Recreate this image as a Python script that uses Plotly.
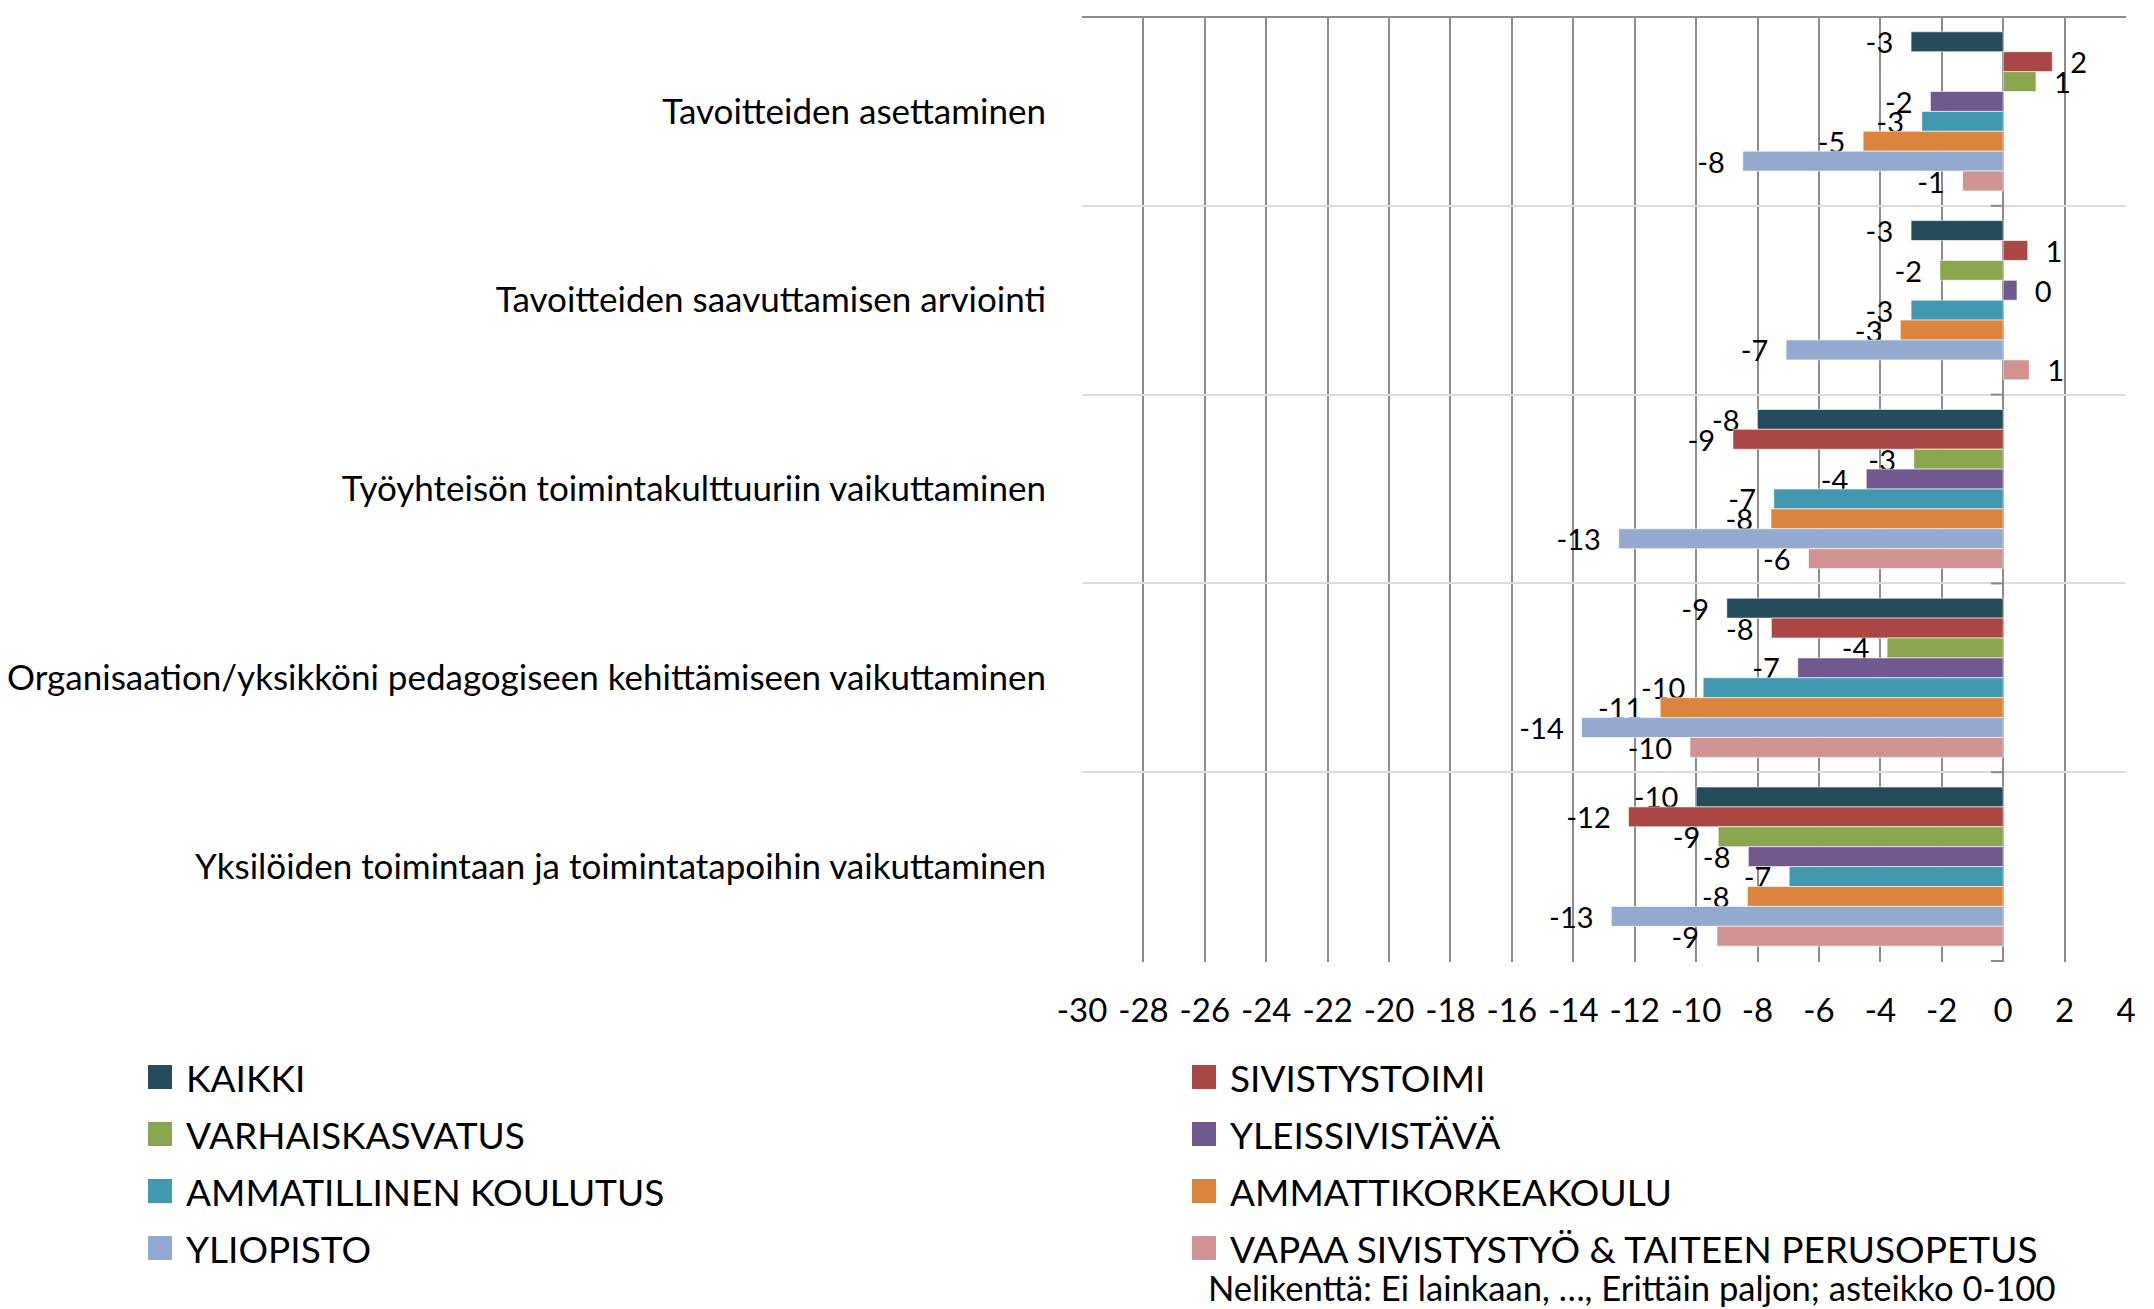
import plotly.graph_objects as go

# categories (top to bottom)
categories = [
    "Tavoitteiden asettaminen",
    "Tavoitteiden saavuttamisen arviointi",
    "Työyhteisön toimintakulttuuriin vaikuttaminen",
    "Organisaation/yksikköni pedagogiseen kehittämiseen vaikuttaminen",
    "Yksilöiden toimintaan ja toimintatapoihin vaikuttaminen",
]

# series values
kaikki = [-3.0, -3.0, -8.0, -9.0, -10.0]
sivistystoimi = [1.6, 0.8, -8.8, -7.55, -12.2]
varhaiskasvatus = [1.07, -2.06, -2.91, -3.78, -9.28]
yleissivistava = [-2.37, 0.45, -4.46, -6.69, -8.3]
ammatillinen = [-2.65, -3.0, -7.47, -9.77, -6.97]
ammattikorkeakoulu = [-4.56, -3.35, -7.56, -11.17, -8.33]
yliopisto = [-8.48, -7.07, -12.52, -13.73, -12.76]
vapaa_sivistystyo = [-1.32, 0.85, -6.34, -10.2, -9.32]

series_names = [
    "KAIKKI", "SIVISTYSTOIMI", "VARHAISKASVATUS", "YLEISSIVISTÄVÄ",
    "AMMATILLINEN KOULUTUS", "AMMATTIKORKEAKOULU", "YLIOPISTO",
    "VAPAA SIVISTYSTYÖ & TAITEEN PERUSOPETUS",
]
series_values = [kaikki, sivistystoimi, varhaiskasvatus, yleissivistava,
                 ammatillinen, ammattikorkeakoulu, yliopisto, vapaa_sivistystyo]
series_colors = ["#244C5A", "#AA4744", "#89A54E", "#71588F",
                 "#4198AF", "#DB843D", "#93A9CF", "#D19392"]

x_ticks = list(range(-30, 5, 2))
note_text = "Nelikenttä: Ei lainkaan, …, Erittäin paljon; asteikko 0-100"

FONT = "Lato"
OFF = 8  # page body margin
W, H = 2154 - OFF, 1309 - OFF
L, T = 1082 - OFF, 17 - OFF
PW, PH = 1044, 945
R = W - L - PW
B = H - T - PH
GAP = "\u00a0\u00a0"  # extra room between bar end and its label


def px2paper(px, py):
    """pixel position in the screenshot -> paper coordinates"""
    return (px - OFF - L) / PW, (H - B - (py - OFF)) / PH


fig = go.Figure()
for name, vals, col in zip(series_names, series_values, series_colors):
    tmpl = [GAP + "%{x:.0f}" if v >= 0 else "%{x:.0f}" + GAP for v in vals]
    fig.add_trace(go.Bar(
        y=categories, x=vals, name=name, orientation="h",
        marker=dict(color=col, line=dict(color="rgba(255,255,255,0.6)", width=1)),
        texttemplate=tmpl, textposition="outside",
        textfont=dict(family=FONT, size=29, color="black"),
        constraintext="none", cliponaxis=False,
    ))

fig.update_layout(
    width=W, height=H,
    margin=dict(l=L, r=R, t=T, b=B),
    barmode="group", bargap=0.157, bargroupgap=0,
    plot_bgcolor="white", paper_bgcolor="white",
    showlegend=False,
    font=dict(family=FONT, color="black"),
)
fig.update_xaxes(
    range=[-30, 4], tickvals=x_ticks, ticktext=[str(v) for v in x_ticks],
    showgrid=True, gridcolor="#8c8c8c", gridwidth=1.5,
    zeroline=True, zerolinecolor="#8c8c8c", zerolinewidth=1.5,
    showline=False, ticks="", ticklabelstandoff=26, automargin=False,
    tickfont=dict(family=FONT, size=33, color="black"),
)
fig.update_yaxes(
    autorange="reversed", tickson="boundaries",
    showgrid=True, gridcolor="#dcdcdc", gridwidth=2,
    showline=False, ticks="", ticklabelstandoff=35, automargin=False,
    tickfont=dict(family=FONT, size=35, color="black"),
)

# dark top border of the plot area
fig.add_shape(type="line", xref="paper", yref="paper", x0=0, x1=1, y0=1, y1=1,
              line=dict(color="#8c8c8c", width=2))

# small category-axis ticks where the axis crosses at zero
for k in range(1, len(categories) + 1):
    fig.add_shape(type="line", xref="x", yref="y", x0=-0.4, x1=0,
                  y0=k - 0.5, y1=k - 0.5, line=dict(color="#8c8c8c", width=2))

# legend drawn by hand so the swatches get the right size
for i, (name, col) in enumerate(zip(series_names, series_colors)):
    c, r = i % 2, i // 2
    sx = 148 + c * 1044
    sy = 1077 + r * 57
    x0, y0 = px2paper(sx, sy + 12)
    x1, y1 = px2paper(sx + 24, sy - 12)
    fig.add_shape(type="rect", xref="paper", yref="paper", x0=x0, x1=x1, y0=y0, y1=y1,
                  fillcolor=col, line=dict(width=0))
    tx, ty = px2paper(sx + 36, sy)
    fig.add_annotation(text=name, xref="paper", yref="paper", x=tx, y=ty,
                       xanchor="left", yanchor="middle", showarrow=False,
                       font=dict(family=FONT, size=37, color="black"))

nx, ny = px2paper(1206, 1287)
fig.add_annotation(text=note_text, xref="paper", yref="paper", x=nx, y=ny,
                   xanchor="left", yanchor="middle", showarrow=False,
                   font=dict(family=FONT, size=34.6, color="black"))

fig.write_html("out.html")
